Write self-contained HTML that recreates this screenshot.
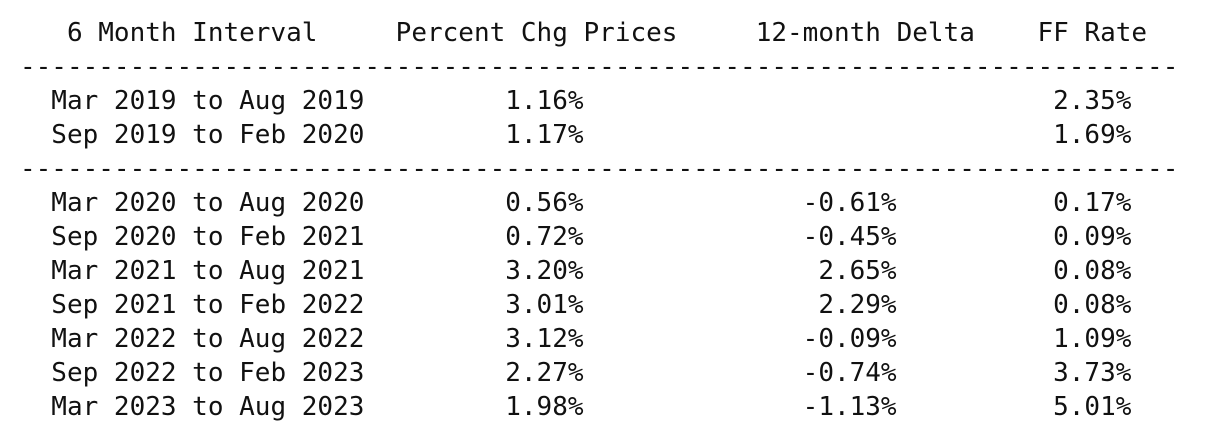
<!DOCTYPE html>
<html><head><meta charset="utf-8"><style>
html,body{margin:0;padding:0;background:#fff;width:1214px;height:442px;overflow:hidden}
pre{margin:0;position:absolute;left:20px;top:16px;font-family:"DejaVu Sans Mono","Liberation Mono",monospace;font-size:26px;line-height:34px;color:#111}
</style></head><body>
<pre>   6 Month Interval     Percent Chg Prices     12-month Delta    FF Rate
--------------------------------------------------------------------------
  Mar 2019 to Aug 2019         1.16%                              2.35%
  Sep 2019 to Feb 2020         1.17%                              1.69%
--------------------------------------------------------------------------
  Mar 2020 to Aug 2020         0.56%              -0.61%          0.17%
  Sep 2020 to Feb 2021         0.72%              -0.45%          0.09%
  Mar 2021 to Aug 2021         3.20%               2.65%          0.08%
  Sep 2021 to Feb 2022         3.01%               2.29%          0.08%
  Mar 2022 to Aug 2022         3.12%              -0.09%          1.09%
  Sep 2022 to Feb 2023         2.27%              -0.74%          3.73%
  Mar 2023 to Aug 2023         1.98%              -1.13%          5.01%</pre>
</body></html>
